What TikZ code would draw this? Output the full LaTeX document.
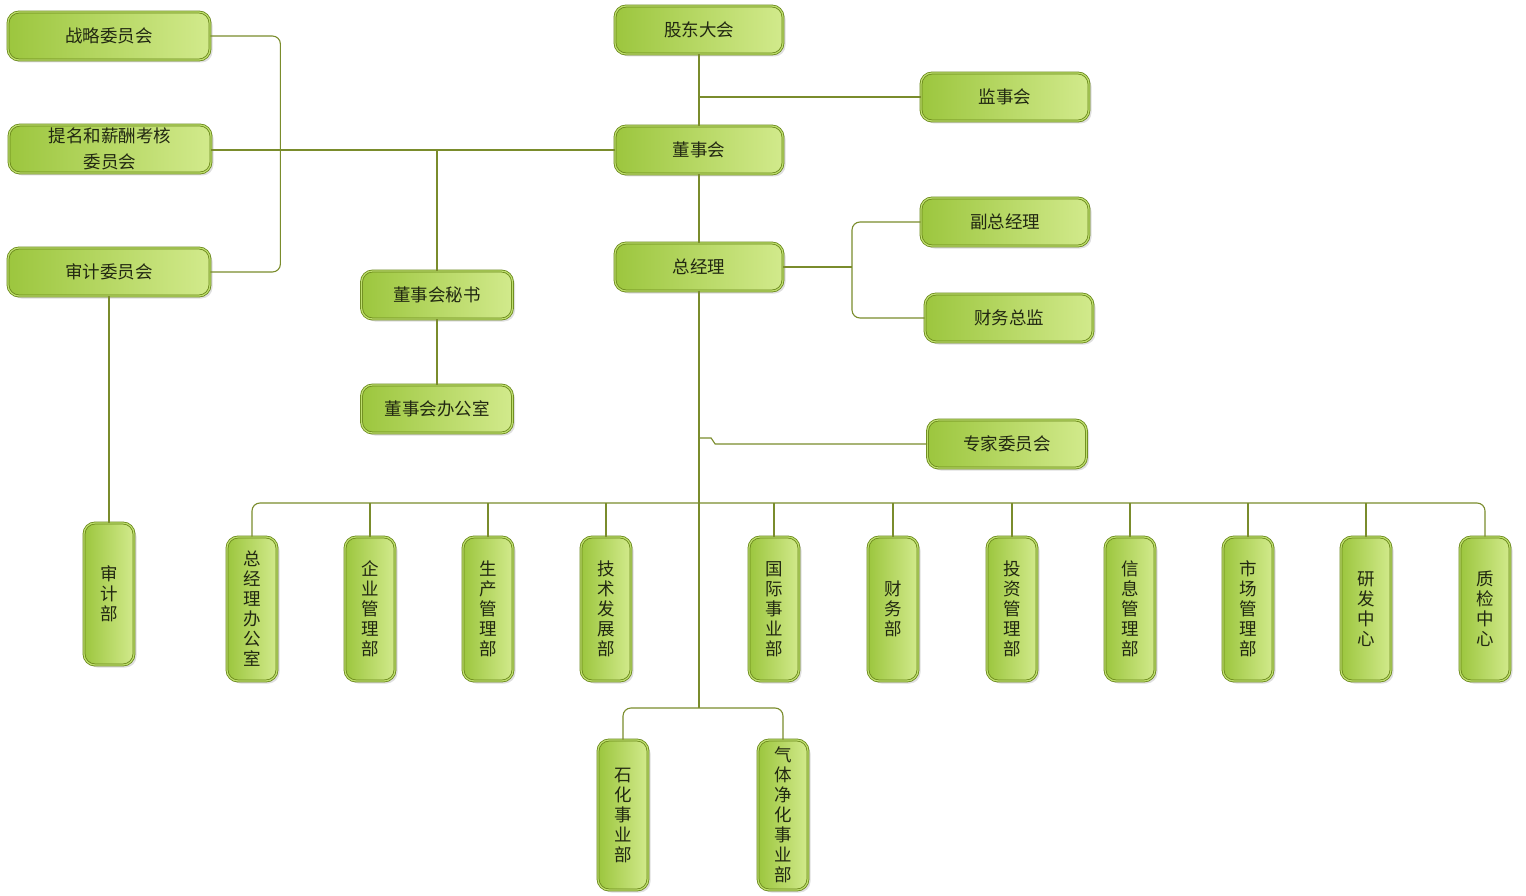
\documentclass[tikz,border=0pt]{standalone}
\usepackage{fontspec}
\setmainfont{Noto Sans CJK SC}
\usepackage{xcolor}
\usepackage{tikz}
\usetikzlibrary{shadows}

\definecolor{boxline}{RGB}{104,134,24}
\definecolor{boxband}{RGB}{190,222,110}
\definecolor{boxmid}{RGB}{156,198,62}
\definecolor{boxlight}{RGB}{210,234,140}
\definecolor{linkcol}{RGB}{122,140,44}
\definecolor{inkcol}{RGB}{34,40,18}

\tikzset{
  unit/.style={draw=boxline, double=boxband, double distance=1.2pt, line width=0.8pt,
    rounded corners=11pt, left color=boxmid, right color=boxlight,
    drop shadow={opacity=0.25, shadow xshift=2.5pt, shadow yshift=-2.5pt},
    font=\fontsize{17.5}{20}\selectfont, text=inkcol, align=center, inner sep=0pt},
  hunit/.style={unit, minimum width=168pt, minimum height=48pt},
  vunit/.style={unit, minimum width=50pt, minimum height=144pt},
  link/.style={draw=linkcol, line width=1.1pt, rounded corners=8pt},
}

\begin{document}
\begin{tikzpicture}[x=1pt, y=-1pt]
            \fill[white] (0,0) rectangle (1526,896);
            \useasboundingbox (0,0) rectangle (1526,896);

            % top of the chart
            \node[hunit] (gddh) at (699,30) {股东大会};
            \node[hunit] (jsh) at (1005,97) {监事会};
            \node[hunit] (dsh) at (699,150) {董事会};
            \node[hunit] (zjl) at (699,267) {总经理};
            \node[hunit] (fzjl) at (1005,222) {副总经理};
            \node[hunit] (cwzj) at (1009,318) {财务总监};
            \node[hunit, minimum width=159pt] (zjwyh) at (1007,444) {专家委员会};
            \node[hunit, minimum width=151pt] (dsms) at (437,295) {董事会秘书};
            \node[hunit, minimum width=151pt] (dsbgs) at (437,409) {董事会办公室};

            % committees on the left
            \node[hunit, minimum width=202pt] (zlwyh) at (109,36) {战略委员会};
            \node[hunit, minimum width=202pt, font=\fontsize{17.5}{26}\selectfont] (tmwyh) at (110,149) {提名和薪酬考核\\委员会};
            \node[hunit, minimum width=202pt] (sjwyh) at (109,272) {审计委员会};
            \node[vunit, minimum height=142pt] (sjb) at (109,594) {审\\计\\部};

            % departments
            \node[vunit] (zjbgs) at (252,609) {总\\经\\理\\办\\公\\室};
            \node[vunit] (qygl) at (370,609) {企\\业\\管\\理\\部};
            \node[vunit] (scgl) at (488,609) {生\\产\\管\\理\\部};
            \node[vunit] (jsfz) at (606,609) {技\\术\\发\\展\\部};
            \node[vunit] (gjsy) at (774,609) {国\\际\\事\\业\\部};
            \node[vunit] (cwb) at (893,609) {财\\务\\部};
            \node[vunit] (tzgl) at (1012,609) {投\\资\\管\\理\\部};
            \node[vunit] (xxgl) at (1130,609) {信\\息\\管\\理\\部};
            \node[vunit] (shcgl) at (1248,609) {市\\场\\管\\理\\部};
            \node[vunit] (yfzx) at (1366,609) {研\\发\\中\\心};
            \node[vunit] (zjzx) at (1485,609) {质\\检\\中\\心};
            \node[vunit, minimum height=150pt] (shsyb) at (623,815) {石\\化\\事\\业\\部};
            \node[vunit, minimum height=150pt] (qtjh) at (783,815) {气\\体\\净\\化\\事\\业\\部};

            \coordinate (gm) at (852,267);
            \coordinate (bus) at (699,503);
            \coordinate (fork) at (699,708);

            \draw[link] (gddh) -- (dsh); % gddh-dsh
            \draw[link] (dsh) -- (zjl); % dsh-zjl
            \draw[link] (zjl.south) -- (fork); % zjl-fork
            \draw[link] (jsh.west) -- (jsh.west -| gddh.south); % jsh
            \draw[link] (dsh.west) -- (tmwyh.east |- dsh.west); % dsh-tmwyh
            \draw[link] (dsms.north) -- (dsms.north |- dsh.west); % dsms
            \draw[link] (dsms) -- (dsbgs); % dsms-dsbgs
            \draw[link] (zlwyh.east) -- ++(70,0) |- (sjwyh.east); % zlwyh-sjwyh
            \draw[link] (sjwyh) -- (sjb); % sjwyh-sjb
            \draw[link] (zjl.east) -- (gm); % zjl-gm
            \draw[link] (fzjl.west) -| (gm) |- (cwzj.west); % fzjl-cwzj
            \draw[link, sharp corners] (zjwyh.west) -- ++(-212,0) -- ++(-4,-6) -- ++(-13,0); % zjwyh
            \draw[link] (zjbgs.north) |- (bus) -| (zjzx.north); % bus
            \foreach \dept in {qygl, scgl, jsfz, gjsy, cwb, tzgl, xxgl, shcgl, yfzx}
              \draw[link] (\dept.north) -- (\dept.north |- bus);
            \draw[link] (shsyb.north) |- (fork) -| (qtjh.north); % fork
\end{tikzpicture}
\end{document}
